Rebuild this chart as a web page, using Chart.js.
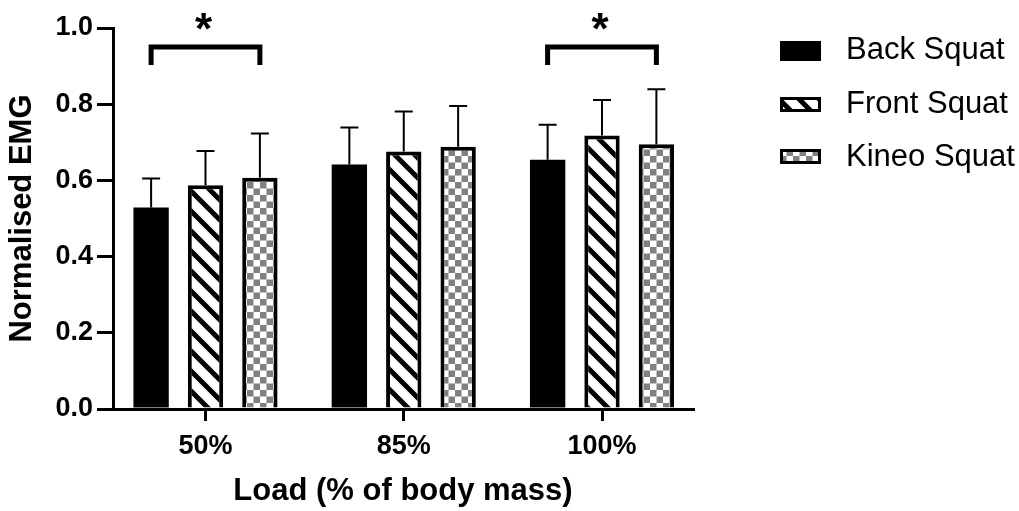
<!DOCTYPE html>
<html>
<head>
<meta charset="utf-8">
<script src="https://cdn.jsdelivr.net/npm/chart.js@4/dist/chart.umd.min.js"></script>
<style>
  html, body { margin: 0; padding: 0; background: #ffffff; }
  #wrap { width: 1019px; height: 511px; }
</style>
</head>
<body>
<div id="wrap"><canvas id="chart" width="1019" height="511"></canvas></div>
<script>
// Load groups on the x axis
const categories = ['50%', '85%', '100%'];

// Mean normalised EMG per squat variation
const seriesNames = ['Back Squat', 'Front Squat', 'Kineo Squat'];
const backSquat  = [0.529, 0.642, 0.654];
const frontSquat = [0.587, 0.676, 0.718];
const kineoSquat = [0.607, 0.688, 0.695];

// Standard deviations (upper whisker only)
const backSD  = [0.076, 0.097, 0.092];
const frontSD = [0.090, 0.105, 0.093];
const kineoSD = [0.116, 0.107, 0.144];

// Y axis tick values
const yTicks = [0.0, 0.2, 0.4, 0.6, 0.8, 1.0];

// Groups with a significant Back vs Kineo difference
const significantGroups = [0, 2];

const FONT = "'Liberation Sans', Arial, Helvetica, sans-serif";

// Fill patterns
function stripePattern() {
  const c = document.createElement('canvas');
  c.width = 20; c.height = 20;
  const g = c.getContext('2d');
  g.fillStyle = '#ffffff';
  g.fillRect(0, 0, 20, 20);
  g.strokeStyle = '#000000';
  g.lineWidth = 5;
  g.beginPath();
  for (let k = -20; k <= 20; k += 20) {
    g.moveTo(k - 5, -5);
    g.lineTo(k + 25, 25);
  }
  g.stroke();
  return g.createPattern(c, 'repeat');
}

function checkerPattern() {
  const s = 6.5;
  const c = document.createElement('canvas');
  c.width = 13; c.height = 13;
  const g = c.getContext('2d');
  g.fillStyle = '#ffffff';
  g.fillRect(0, 0, 13, 13);
  g.fillStyle = '#808080';
  g.fillRect(0, 0, s, s);
  g.fillRect(s, s, s, s);
  return g.createPattern(c, 'repeat');
}

const stripes = stripePattern();
const checks = checkerPattern();

const toPoints = arr => arr.map((v, i) => ({ x: i, y: v }));

const datasets = [
  { label: seriesNames[0], data: toPoints(backSquat),  errors: backSD,
    backgroundColor: '#000000', borderColor: '#000000', borderWidth: 0 },
  { label: seriesNames[1], data: toPoints(frontSquat), errors: frontSD,
    backgroundColor: stripes, borderColor: '#000000', borderWidth: 4 },
  { label: seriesNames[2], data: toPoints(kineoSquat), errors: kineoSD,
    backgroundColor: checks, borderColor: '#000000', borderWidth: 4 }
];

// Upper error whiskers with caps
const errorBars = {
  id: 'errorBars',
  afterDatasetsDraw(chart) {
    const ctx = chart.ctx;
    const ys = chart.scales.y;
    ctx.save();
    ctx.strokeStyle = '#000000';
    ctx.lineWidth = 2;
    chart.data.datasets.forEach((ds, di) => {
      const meta = chart.getDatasetMeta(di);
      meta.data.forEach((bar, i) => {
        const top = ys.getPixelForValue(ds.data[i].y + ds.errors[i]);
        ctx.beginPath();
        ctx.moveTo(bar.x, bar.y);
        ctx.lineTo(bar.x, top);
        ctx.moveTo(bar.x - 9, top);
        ctx.lineTo(bar.x + 9, top);
        ctx.stroke();
      });
    });
    ctx.restore();
  }
};

// Significance brackets with asterisks
const significance = {
  id: 'significance',
  afterDatasetsDraw(chart) {
    const ctx = chart.ctx;
    const ys = chart.scales.y;
    const first = chart.getDatasetMeta(0);
    const last = chart.getDatasetMeta(2);
    const yLine = ys.getPixelForValue(0.95);
    const yLeg = ys.getPixelForValue(0.903);
    ctx.save();
    ctx.strokeStyle = '#000000';
    ctx.fillStyle = '#000000';
    ctx.lineWidth = 5;
    ctx.lineJoin = 'miter';
    ctx.lineCap = 'butt';
    significantGroups.forEach(g => {
      const x1 = first.data[g].x;
      const x2 = last.data[g].x;
      ctx.beginPath();
      ctx.moveTo(x1, yLeg);
      ctx.lineTo(x1, yLine);
      ctx.lineTo(x2, yLine);
      ctx.lineTo(x2, yLeg);
      ctx.stroke();
      ctx.font = 'bold 44px ' + FONT;
      ctx.textAlign = 'center';
      ctx.textBaseline = 'alphabetic';
      ctx.fillText('*', (x1 + x2) / 2 - 2, 44);
    });
    ctx.restore();
  }
};

// Legend drawn to the right of the plot
const sideLegend = {
  id: 'sideLegend',
  afterDraw(chart) {
    const ctx = chart.ctx;
    const rows = [
      { textY: 50, boxY: 41, boxH: 20 },
      { textY: 104, boxY: 97, boxH: 15 },
      { textY: 157, boxY: 149, boxH: 15 }
    ];
    ctx.save();
    ctx.font = '31px ' + FONT;
    ctx.textAlign = 'left';
    ctx.textBaseline = 'middle';
    chart.data.datasets.forEach((ds, i) => {
      const r = rows[i];
      ctx.fillStyle = ds.backgroundColor;
      ctx.fillRect(780, r.boxY, 41, r.boxH);
      if (ds.borderWidth) {
        ctx.strokeStyle = '#000000';
        ctx.lineWidth = 3;
        ctx.strokeRect(781.5, r.boxY + 1.5, 38, r.boxH - 3);
      }
      ctx.fillStyle = '#000000';
      ctx.fillText(ds.label, 846, r.textY);
    });
    ctx.restore();
  }
};

new Chart(document.getElementById('chart'), {
  type: 'bar',
  data: { datasets },
  options: {
    responsive: false,
    animation: false,
    devicePixelRatio: 1,
    layout: { padding: { top: 28, right: 326, bottom: 0, left: 0 } },
    datasets: {
      bar: { categoryPercentage: 0.823, barPercentage: 0.65, borderSkipped: 'start' }
    },
    plugins: {
      legend: { display: false },
      tooltip: { enabled: false }
    },
    scales: {
      x: {
        type: 'linear',
        min: -0.4666,
        max: 2.459,
        offset: false,
        z: 1,
        afterFit(scale) { scale.height = 102; },
        afterBuildTicks(scale) { scale.ticks = categories.map((_, i) => ({ value: i })); },
        grid: {
          offset: false,
          drawOnChartArea: false,
          drawTicks: true,
          tickLength: 12,
          lineWidth: 3,
          color: '#000000'
        },
        border: { display: true, width: 3, color: '#000000' },
        ticks: {
          autoSkip: false,
          maxRotation: 0,
          padding: 9,
          color: '#000000',
          font: { family: FONT, size: 27, weight: 'bold' },
          callback: v => categories[v]
        },
        title: {
          display: true,
          text: 'Load (% of body mass)',
          color: '#000000',
          font: { family: FONT, size: 31, weight: 'bold' },
          padding: { top: 0, bottom: 1 }
        }
      },
      y: {
        min: 0,
        max: 1,
        z: 1,
        afterFit(scale) { scale.width = 113; },
        afterBuildTicks(scale) { scale.ticks = yTicks.map(v => ({ value: v })); },
        grid: {
          drawOnChartArea: false,
          drawTicks: true,
          tickLength: 16,
          lineWidth: 3,
          color: '#000000'
        },
        border: { display: true, width: 3, color: '#000000' },
        ticks: {
          padding: 4,
          color: '#000000',
          font: { family: FONT, size: 27, weight: 'bold' },
          callback: v => Number(v).toFixed(1)
        },
        title: {
          display: true,
          text: 'Normalised EMG',
          color: '#000000',
          font: { family: FONT, size: 31, weight: 'bold' },
          padding: { top: 4, bottom: 0 }
        }
      }
    }
  },
  plugins: [errorBars, significance, sideLegend]
});
</script>
</body>
</html>
